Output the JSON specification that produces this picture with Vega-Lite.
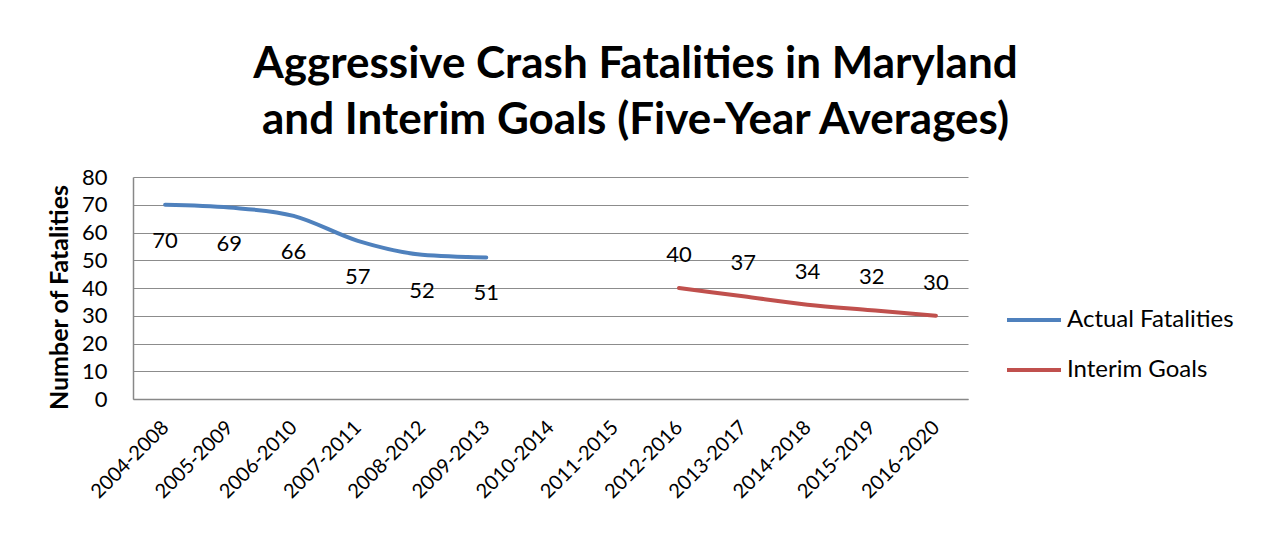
{
  "$schema": "https://vega.github.io/schema/vega-lite/v6.json",
  "width": 835,
  "height": 222,
  "autosize": {"type": "none"},
  "padding": {"left": 133, "top": 177, "right": 295, "bottom": 136},
  "background": "white",
  "config": {
    "font": "Lato",
    "view": {"stroke": null},
    "axis": {"labelFont": "Lato", "titleFont": "Lato", "labelColor": "black", "titleColor": "black"}
  },
  "title": {
    "text": ["Aggressive Crash Fatalities in Maryland", "and Interim Goals (Five-Year Averages)"],
    "font": "Lato",
    "fontSize": 44,
    "fontWeight": "bold",
    "color": "black",
    "lineHeight": 56,
    "anchor": "middle",
    "dx": 85,
    "offset": 23
  },
  "data": {
    "values": [
      {"period": "2004-2008", "series": "Actual Fatalities", "value": 70},
      {"period": "2005-2009", "series": "Actual Fatalities", "value": 69},
      {"period": "2006-2010", "series": "Actual Fatalities", "value": 66},
      {"period": "2007-2011", "series": "Actual Fatalities", "value": 57},
      {"period": "2008-2012", "series": "Actual Fatalities", "value": 52},
      {"period": "2009-2013", "series": "Actual Fatalities", "value": 51},
      {"period": "2012-2016", "series": "Interim Goals", "value": 40},
      {"period": "2013-2017", "series": "Interim Goals", "value": 37},
      {"period": "2014-2018", "series": "Interim Goals", "value": 34},
      {"period": "2015-2019", "series": "Interim Goals", "value": 32},
      {"period": "2016-2020", "series": "Interim Goals", "value": 30}
    ]
  },
  "encoding": {
    "x": {
      "field": "period",
      "type": "nominal",
      "sort": null,
      "scale": {
        "domain": ["2004-2008", "2005-2009", "2006-2010", "2007-2011", "2008-2012", "2009-2013", "2010-2014", "2011-2015", "2012-2016", "2013-2017", "2014-2018", "2015-2019", "2016-2020"],
        "padding": 0.5
      },
      "axis": {
        "title": null,
        "labelAngle": -45,
        "labelAlign": "right",
        "labelBaseline": "middle",
        "labelFontSize": 20,
        "labelPadding": 25,
        "ticks": false,
        "domainColor": "#888888",
        "domainWidth": 1.5,
        "grid": false
      }
    },
    "y": {
      "field": "value",
      "type": "quantitative",
      "scale": {"domain": [0, 80], "nice": false},
      "axis": {
        "title": "Number of Fatalities",
        "titleFontSize": 25,
        "titleFontWeight": "bold",
        "titlePadding": 9,
        "titleY": 120,
        "values": [0, 10, 20, 30, 40, 50, 60, 70, 80],
        "labelFontSize": 22,
        "labelPadding": 26,
        "ticks": false,
        "domainColor": "#888888",
        "domainWidth": 1.5,
        "gridColor": "#8c8c8c",
        "gridWidth": 1.2
      }
    }
  },
  "layer": [
    {
      "mark": {"type": "line", "strokeWidth": 4, "strokeCap": "round", "interpolate": "monotone"},
      "encoding": {
        "color": {
          "field": "series",
          "type": "nominal",
          "scale": {"domain": ["Actual Fatalities", "Interim Goals"], "range": ["#4F81BD", "#C0504D"]},
          "legend": {
            "title": null,
            "orient": "none",
            "legendX": 872,
            "legendY": 114,
            "symbolType": "stroke",
            "symbolSize": 2916,
            "symbolStrokeWidth": 4,
            "labelFontSize": 24,
            "labelLimit": 400,
            "labelColor": "black",
            "labelOffset": 4,
            "rowPadding": 9
          }
        }
      }
    },
    {
      "transform": [{"filter": "datum.series == 'Actual Fatalities'"}],
      "mark": {"type": "text", "fontSize": 22, "dy": 36, "color": "black"},
      "encoding": {"text": {"field": "value", "type": "quantitative"}}
    },
    {
      "transform": [{"filter": "datum.series == 'Interim Goals'"}],
      "mark": {"type": "text", "fontSize": 22, "dy": -33, "color": "black"},
      "encoding": {"text": {"field": "value", "type": "quantitative"}}
    }
  ]
}
